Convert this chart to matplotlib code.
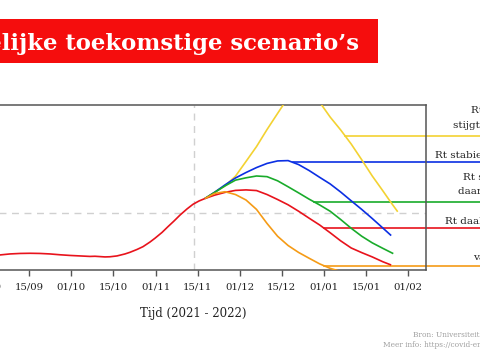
import numpy as np
import matplotlib
matplotlib.use("Agg")
import matplotlib.pyplot as plt
from matplotlib.patches import Rectangle

# ---------------- data ----------------
tick_labels = ["01/09", "15/09", "01/10", "15/10", "01/11", "15/11",
               "01/12", "15/12", "01/01", "15/01", "01/02"]

hist_t = [-0.85, -0.171, 0.304, 0.541, 0.779, 1.017, 1.254, 1.492, 1.730,
          1.967, 2.205, 2.442, 2.561, 2.680, 2.799, 2.918, 3.084, 3.274,
          3.393, 3.559, 3.702, 3.868, 3.987, 4.154, 4.296, 4.439, 4.582,
          4.748, 4.890, 5.033, 5.175]
hist_y = [8.5, 8.8, 9.1, 9.7, 10.0, 10.1, 10.0, 9.7, 9.2,
          8.8, 8.5, 8.2, 8.3, 8.1, 7.9, 8.0, 8.5, 9.7,
          10.7, 12.4, 14.1, 16.9, 19.2, 22.7, 26.2, 29.6, 33.2,
          36.9, 39.7, 41.7, 43.2]

scen_t = [5.175, 5.4, 5.65, 5.9, 6.15, 6.4, 6.65, 6.9, 7.15, 7.4, 7.65,
          7.9, 8.15, 8.4, 8.65, 8.9, 9.15, 9.4, 9.6]

yellow_t = scen_t[:-1] + [9.6, 9.755]
yellow_y = [43.2, 46.9, 50.8, 56.7, 65.6, 74.6, 84.9, 94.6, 104.2, 108.5,
            109.1, 101.4, 92.4, 84.6, 76.1, 66.6, 56.8, 47.9, 40.6, 35.2]

blue_t = scen_t
blue_y = [43.2, 46.9, 51.4, 55.6, 58.9, 61.9, 64.4, 65.9, 66.1, 63.7, 60.1,
          56.0, 52.0, 47.1, 41.8, 36.6, 31.1, 25.4, 20.8]

green_t = scen_t[:-1] + [9.65]
green_y = [43.2, 46.8, 50.8, 54.3, 55.7, 56.8, 56.4, 53.9, 50.3, 46.6, 42.8,
           39.3, 35.5, 30.5, 25.2, 20.4, 16.4, 13.1, 9.9]

red_t = scen_t
red_y = [43.2, 45.2, 46.9, 48.1, 48.4, 48.0, 45.6, 42.6, 39.4, 35.5, 31.3,
         27.2, 22.5, 17.6, 13.3, 10.5, 7.9, 5.0, 3.0]

orange_t = scen_t[:14] + [8.5]
orange_y = [43.2, 46.2, 47.3, 45.6, 42.3, 36.6, 28.1, 20.4, 14.8, 10.6, 7.1,
            3.7, 1.0, -0.9, -3.0]

# label level of each scenario leader line
leader_levels = [81.0, 65.0, 41.1, 25.2, 2.7]

# label texts (lines), partly outside the visible frame
label_lines = [
    ["Rt 1,2", "stijgt verder"],
    ["Rt stabiel op 1"],
    ["Rt stabiel,", "daarna daling"],
    ["Rt daalt naar 0,9"],
    ["vanaf nu"],
]

today_t = 4.915
threshold_y = 34.3

# ---------------- styling ----------------
W, H = 480, 360
colors = ["#f3d232", "#0b2fe3", "#19ab2b", "#e8131c", "#f59b16"]
series = [(yellow_t, yellow_y), (blue_t, blue_y), (green_t, green_y),
          (red_t, red_y), (orange_t, orange_y)]
# label line positions in pixels (x start, y center)
label_pos = [
    [(471, 110), (453, 126)],
    [(435, 156)],
    [(463, 177), (458, 192)],
    [(445, 221)],
    [(473, 258)],
]

serif = "DejaVu Serif"
fig = plt.figure(figsize=(W / 100, H / 100), dpi=100)


def fx(px):
    return px / W


def fy(py):
    return 1 - py / H


# title box
fig.add_artist(Rectangle((-0.01, fy(63)), fx(378) + 0.01, 44 / H,
                         transform=fig.transFigure, color="#f50d0d",
                         zorder=0, lw=0))
renderer = fig.canvas.get_renderer()
probe = fig.text(0, 0, "lijke toekomstige scenario’s", fontsize=16,
                 family=serif, weight="bold")
w = probe.get_window_extent(renderer).width
probe.remove()
title_fs = 16 * 357 / w
fig.text(fx(359), fy(50), "Mogelijke toekomstige scenario’s", ha="right",
         va="baseline", fontsize=title_fs, family=serif, weight="bold",
         color="white")

# axes
ax = fig.add_axes([fx(-46), 90 / H, 472 / W, 165.5 / H])
ax.set_xlim(-0.789, 10.427)
ax.set_ylim(0, 100)
ax.set_yticks([])
ax.set_xticks(range(len(tick_labels)))
ax.set_xticklabels(tick_labels, family=serif, fontsize=7.3, color="#222222")
ax.tick_params(axis="x", direction="out", length=4, width=1,
               color="#555555", pad=5)
for s in ax.spines.values():
    s.set_color("#555555")
    s.set_linewidth(1.1)

ax.axvline(today_t, color="#d0d0d0", lw=1, dashes=(5, 4), zorder=1)
ax.axhline(threshold_y, color="#d0d0d0", lw=1, dashes=(5, 4), zorder=1)

line_kw = dict(lw=1.2, solid_joinstyle="round", solid_capstyle="butt")
ax.plot(hist_t, hist_y, color=colors[3], zorder=3, **line_kw)
for (t, y), c in zip(series, colors):
    ax.plot(t, y, color=c, zorder=3, **line_kw)

# leader lines: from where the curve falls through the label level
for (t, y), c, lev in zip(series, colors, leader_levels):
    t = np.asarray(t)
    y = np.asarray(y)
    imax = int(np.argmax(y))
    td, yd = t[imax:], y[imax:]
    start = np.interp(-lev, -yd, td)
    ax.plot([start, 12.5], [lev, lev], color=c, lw=1.2, clip_on=False,
            zorder=2)

ax.set_xlabel("Tijd (2021 - 2022)", family=serif, fontsize=8.5,
              color="#222222", va="center")
ax.xaxis.set_label_coords(0.506, (270 - 313) / 165.5)

for lines, poss in zip(label_lines, label_pos):
    for txt, (px, py) in zip(lines, poss):
        fig.text(fx(px), fy(py), txt, ha="left", va="center", family=serif,
                 fontsize=7.5, color="#222222")

fig.text(fx(413), fy(335), "Bron: Universiteit Hasselt", ha="left",
         va="center", family=serif, fontsize=5.3, color="#a0a0a0")
fig.text(fx(383), fy(345), "Meer info: https://covid-en-wetenschap.github.io",
         ha="left", va="center", family=serif, fontsize=5.3, color="#a0a0a0")

fig.savefig("out.png", dpi=100)
